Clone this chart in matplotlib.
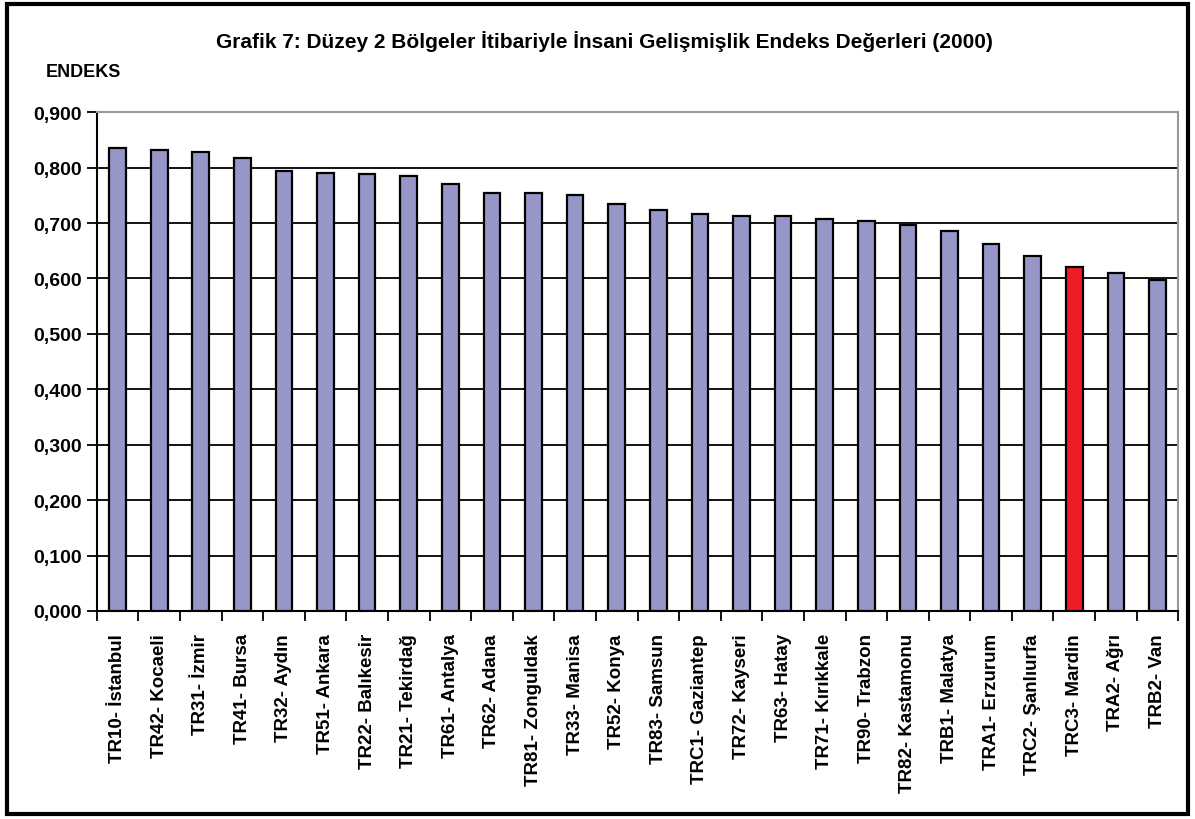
import matplotlib
matplotlib.use("Agg")
import matplotlib.pyplot as plt
from matplotlib.patches import Rectangle
from matplotlib.ticker import FuncFormatter, MultipleLocator
import numpy as np

plt.rcParams['font.family'] = ['Liberation Sans', 'DejaVu Sans']

regions = ["TR10- İstanbul", "TR42- Kocaeli", "TR31- İzmir", "TR41- Bursa",
           "TR32- Aydın", "TR51- Ankara", "TR22- Balıkesir", "TR21- Tekirdağ",
           "TR61- Antalya", "TR62- Adana", "TR81- Zonguldak", "TR33- Manisa",
           "TR52- Konya", "TR83- Samsun", "TRC1- Gaziantep", "TR72- Kayseri",
           "TR63- Hatay", "TR71- Kırıkkale", "TR90- Trabzon", "TR82- Kastamonu",
           "TRB1- Malatya", "TRA1- Erzurum", "TRC2- Şanlıurfa", "TRC3- Mardin",
           "TRA2- Ağrı", "TRB2- Van"]
values = [0.835, 0.831, 0.828, 0.818, 0.794, 0.791, 0.788, 0.785, 0.771,
          0.754, 0.754, 0.750, 0.734, 0.723, 0.717, 0.713, 0.713, 0.707,
          0.703, 0.696, 0.686, 0.662, 0.641, 0.621, 0.610, 0.597]
highlight = "TRC3- Mardin"

fig = plt.figure(figsize=(11.95, 8.2), dpi=100)
ax = fig.add_axes([0.081, 0.2537, 0.905, 0.6083])

x = np.arange(len(regions))
colors = ['#EE1C25' if r == highlight else '#9696C8' for r in regions]
ax.bar(x, values, width=0.4, color=colors, edgecolor='black', linewidth=1.6, zorder=3)

ax.set_xlim(-0.5, len(regions) - 0.5)
ax.set_ylim(0, 0.9)
ax.yaxis.set_major_locator(MultipleLocator(0.1))
ax.yaxis.set_major_formatter(FuncFormatter(lambda v, p: f"{v:.3f}".replace('.', ',')))
ax.grid(axis='y', color='black', linewidth=1.3, zorder=1)

ax.set_xticks(x)
ax.set_xticklabels(regions, rotation=90, fontsize=13.5, fontweight='bold')
ax.set_xticks(np.arange(-0.5, len(regions)), minor=True)
ax.tick_params(axis='x', which='major', length=0, pad=16)
ax.tick_params(axis='x', which='minor', length=7, width=1.3, direction='out')
ax.tick_params(axis='y', length=7, width=1.3, labelsize=14, pad=4)
for lab in ax.get_yticklabels():
    lab.set_fontweight('bold')

ax.spines['left'].set_linewidth(1.5)
ax.spines['bottom'].set_linewidth(1.5)
ax.spines['top'].set_color('#999999')
ax.spines['right'].set_color('#999999')
ax.spines['top'].set_linewidth(1.5)
ax.spines['right'].set_linewidth(1.5)

fig.text(0.506, 0.949, "Grafik 7: Düzey 2 Bölgeler İtibariyle İnsani Gelişmişlik Endeks Değerleri (2000)",
         ha='center', va='center', fontsize=15, fontweight='bold')
fig.text(0.038, 0.912, "ENDEKS", ha='left', va='center', fontsize=13, fontweight='bold')

fig.patches.append(Rectangle((0.006, 0.006), 0.988, 0.988, transform=fig.transFigure,
                             fill=False, edgecolor='black', linewidth=3))

fig.savefig("out.png", dpi=100)
